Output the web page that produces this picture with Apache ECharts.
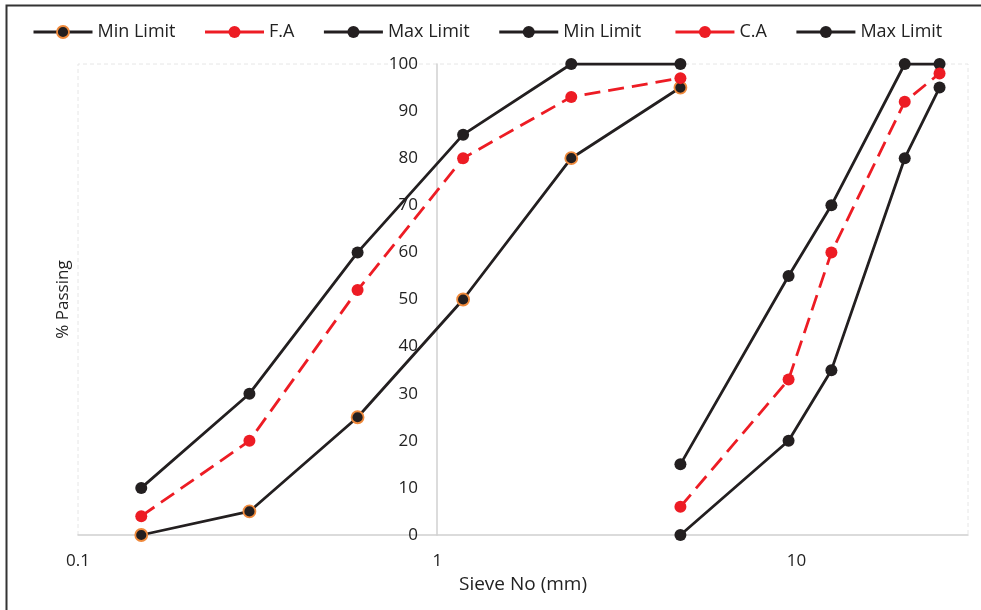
<!DOCTYPE html>
<html>
<head>
<meta charset="utf-8">
<script src="https://cdn.jsdelivr.net/npm/echarts@6/dist/echarts.min.js"></script>
<style>
html,body{margin:0;padding:0;background:#fff;}
#chart{width:981px;height:610px;}
</style>
</head>
<body>
<div id="chart"></div>
<script>
// Sieve sizes (mm)
const faSieves = [0.15, 0.3, 0.6, 1.18, 2.36, 4.75];
const caSieves = [4.75, 9.5, 12.5, 20, 25];
// % Passing
const faMin = [0, 5, 25, 50, 80, 95];
const faVal = [4, 20, 52, 80, 93, 97];
const faMax = [10, 30, 60, 85, 100, 100];
const caMin = [0, 20, 35, 80, 95];
const caVal = [6, 33, 60, 92, 98];
const caMax = [15, 55, 70, 100, 100];
const xTicks = [0.1, 1, 10];

const pair = (xs, ys) => xs.map((x, i) => [x, ys[i]]);
const BLACK = '#231f20', RED = '#ed1c24', ORANGE = '#f08a3c';
const FONT = 'Open Sans';

function mk(name, xs, ys, color, dashed, border) {
  return {
    name: name, type: 'line', data: pair(xs, ys),
    symbol: 'circle', symbolSize: 12,
    lineStyle: {color: color, width: 2.8, type: dashed ? [16, 8] : 'solid'},
    itemStyle: {color: color, borderColor: border || color, borderWidth: border ? 1.8 : 0},
    z: dashed ? 3 : 2
  };
}
function legItem(name, color, border) {
  return {
    name: name,
    itemStyle: {color: color, borderColor: border || color, borderWidth: border ? 1.8 : 0},
    lineStyle: {color: color, width: 3, type: 'solid'}
  };
}

const chart = echarts.init(document.getElementById('chart'));
chart.setOption({
  animation: false,
  textStyle: {fontFamily: FONT},
  legend: {
    top: 23, left: 32, padding: 0, itemWidth: 59, itemHeight: 15, itemGap: 28,
    textStyle: {fontSize: 18, color: '#222', fontFamily: FONT},
    data: [
      legItem('Min Limit', BLACK, ORANGE), legItem('F.A', RED), legItem('Max Limit', BLACK),
      legItem('Min Limit ', BLACK), legItem('C.A', RED), legItem('Max Limit ', BLACK)
    ]
  },
  grid: {left: 78, right: 13, top: 64, bottom: 75, containLabel: false},
  xAxis: {
    type: 'log', logBase: 10, min: 0.1, max: 30,
    name: 'Sieve No (mm)', nameLocation: 'middle', nameGap: 32,
    nameTextStyle: {fontSize: 19, color: '#222'},
    axisLine: {lineStyle: {color: '#d0d0d0', width: 1.5}},
    axisTick: {show: false},
    splitLine: {show: false},
    axisLabel: {
      fontSize: 17, color: '#222', margin: 18,
      formatter: v => (xTicks.some(t => Math.abs(t - v) < 1e-9) ? String(v) : ''),
      showMaxLabel: false
    }
  },
  yAxis: {
    type: 'value', min: 0, max: 100, interval: 10,
    position: 'left', offset: -359,
    name: '% Passing', nameLocation: 'middle', nameGap: 365, nameRotate: 90,
    nameTextStyle: {fontSize: 17, color: '#222'},
    axisLine: {show: true, lineStyle: {color: '#d0d0d0', width: 1.5}},
    axisTick: {show: false},
    splitLine: {show: false},
    axisLabel: {fontSize: 17, color: '#222', margin: 19}
  },
  graphic: [
    {type: 'polyline', silent: true, z: -1,
     shape: {points: [[78, 535], [78, 64], [968, 64], [968, 535]]},
     style: {stroke: '#e6e6e6', lineWidth: 1, lineDash: [4, 3], fill: null}},
    {type: 'polyline', silent: true,
     shape: {points: [[6.5, 610], [6.5, 5.5], [981, 5.5]]},
     style: {stroke: '#333', lineWidth: 2, fill: null}}
  ],
  series: [
    mk('Min Limit', faSieves, faMin, BLACK, false, ORANGE),
    mk('F.A', faSieves, faVal, RED, true),
    mk('Max Limit', faSieves, faMax, BLACK, false),
    mk('Min Limit ', caSieves, caMin, BLACK, false),
    mk('C.A', caSieves, caVal, RED, true),
    mk('Max Limit ', caSieves, caMax, BLACK, false)
  ]
});
</script>
</body>
</html>
